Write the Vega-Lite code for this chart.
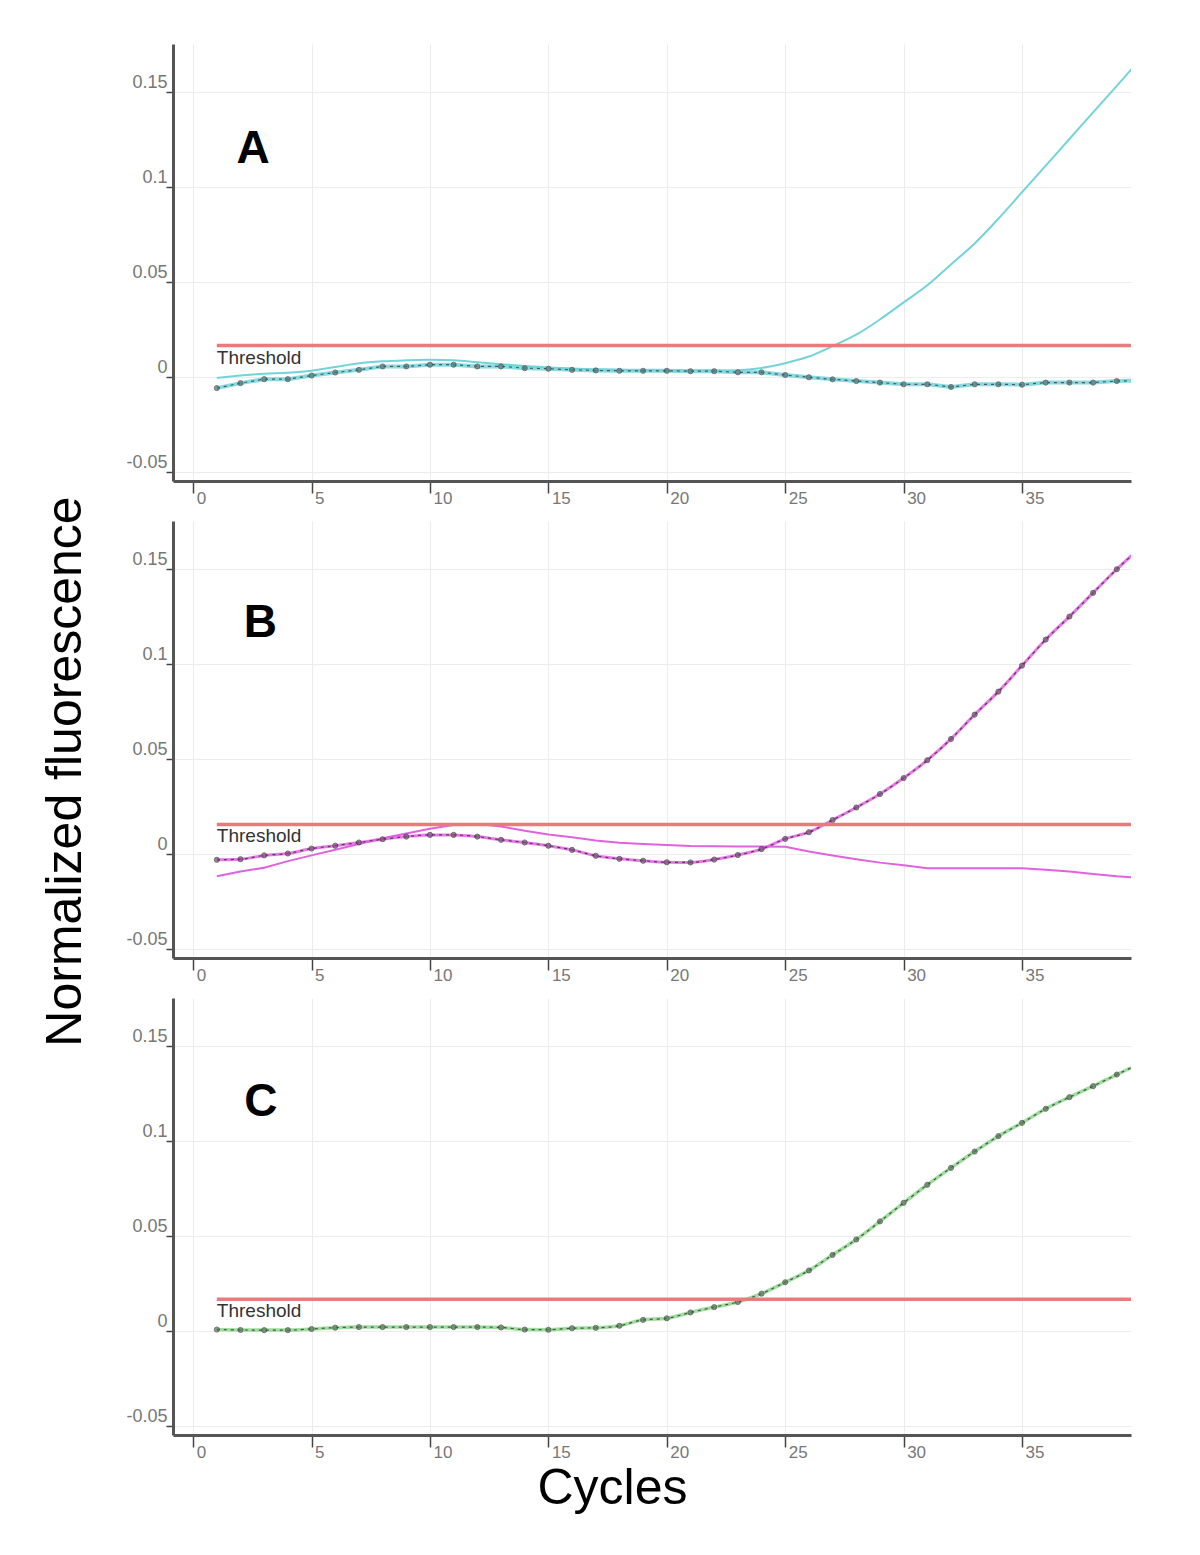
{
  "$schema": "https://vega.github.io/schema/vega-lite/v6.json",
  "background": "white",
  "padding": {"left": 39, "top": 44, "right": 73, "bottom": 42},
  "bounds": "flush",
  "spacing": 40,
  "config": {
    "view": {"stroke": null},
    "font": "Liberation Sans",
    "axis": {
      "domainColor": "#555555", "domainWidth": 3,
      "gridColor": "#ececec", "gridWidth": 1,
      "tickColor": "#444444", "tickWidth": 1.5,
      "labelColor": "#777777", "labelFont": "Liberation Sans", "labelFontSize": 17,
      "titleFont": "Liberation Sans", "titleFontSize": 50, "titleColor": "#000000", "titleFontWeight": "normal"
    },
    "axisX": {"tickSize": 12, "labelAlign": "left", "labelBaseline": "top", "labelPadding": -3, "labelOffset": 3},
    "axisY": {"tickSize": 7, "labelPadding": -1, "labelBaseline": "alphabetic", "labelOffset": -4, "labelAlign": "right", "labelFontSize": 18}
  },
  "data": {"values": [
    {"p":"A","s":"m","c":1,"v":-0.0061},{"p":"A","s":"m","c":2,"v":-0.0035},{"p":"A","s":"m","c":3,"v":-0.0014},{"p":"A","s":"m","c":4,"v":-0.0014},{"p":"A","s":"m","c":5,"v":0.0005},{"p":"A","s":"m","c":6,"v":0.0021},{"p":"A","s":"m","c":7,"v":0.0035},{"p":"A","s":"m","c":8,"v":0.0053},{"p":"A","s":"m","c":9,"v":0.0053},{"p":"A","s":"m","c":10,"v":0.0062},
    {"p":"A","s":"m","c":11,"v":0.0062},{"p":"A","s":"m","c":12,"v":0.0053},{"p":"A","s":"m","c":13,"v":0.0053},{"p":"A","s":"m","c":14,"v":0.0044},{"p":"A","s":"m","c":15,"v":0.0041},{"p":"A","s":"m","c":16,"v":0.0035},{"p":"A","s":"m","c":17,"v":0.0032},{"p":"A","s":"m","c":18,"v":0.003},{"p":"A","s":"m","c":19,"v":0.003},{"p":"A","s":"m","c":20,"v":0.003},
    {"p":"A","s":"m","c":21,"v":0.0028},{"p":"A","s":"m","c":22,"v":0.0028},{"p":"A","s":"m","c":23,"v":0.0022},{"p":"A","s":"m","c":24,"v":0.0022},{"p":"A","s":"m","c":25,"v":0.0008},{"p":"A","s":"m","c":26,"v":-0.0004},{"p":"A","s":"m","c":27,"v":-0.0015},{"p":"A","s":"m","c":28,"v":-0.0024},{"p":"A","s":"m","c":29,"v":-0.0032},{"p":"A","s":"m","c":30,"v":-0.0041},
    {"p":"A","s":"m","c":31,"v":-0.0041},{"p":"A","s":"m","c":32,"v":-0.0055},{"p":"A","s":"m","c":33,"v":-0.0041},{"p":"A","s":"m","c":34,"v":-0.0041},{"p":"A","s":"m","c":35,"v":-0.0043},{"p":"A","s":"m","c":36,"v":-0.0032},{"p":"A","s":"m","c":37,"v":-0.0032},{"p":"A","s":"m","c":38,"v":-0.0032},{"p":"A","s":"m","c":39,"v":-0.0024},{"p":"A","s":"m","c":40,"v":-0.0022},
    {"p":"A","s":"u","c":1,"v":-0.0007},{"p":"A","s":"u","c":2,"v":0.0005},{"p":"A","s":"u","c":3,"v":0.0015},{"p":"A","s":"u","c":4,"v":0.002},{"p":"A","s":"u","c":5,"v":0.003},{"p":"A","s":"u","c":6,"v":0.005},{"p":"A","s":"u","c":7,"v":0.007},{"p":"A","s":"u","c":8,"v":0.008},{"p":"A","s":"u","c":9,"v":0.0085},{"p":"A","s":"u","c":10,"v":0.0088},
    {"p":"A","s":"u","c":11,"v":0.0085},{"p":"A","s":"u","c":12,"v":0.0075},{"p":"A","s":"u","c":13,"v":0.0065},{"p":"A","s":"u","c":14,"v":0.0055},{"p":"A","s":"u","c":15,"v":0.0048},{"p":"A","s":"u","c":16,"v":0.0042},{"p":"A","s":"u","c":17,"v":0.0038},{"p":"A","s":"u","c":18,"v":0.0035},{"p":"A","s":"u","c":19,"v":0.0033},{"p":"A","s":"u","c":20,"v":0.0032},
    {"p":"A","s":"u","c":21,"v":0.0031},{"p":"A","s":"u","c":22,"v":0.0031},{"p":"A","s":"u","c":23,"v":0.0033},{"p":"A","s":"u","c":24,"v":0.0045},{"p":"A","s":"u","c":25,"v":0.007},{"p":"A","s":"u","c":26,"v":0.0105},{"p":"A","s":"u","c":27,"v":0.016},{"p":"A","s":"u","c":28,"v":0.022},{"p":"A","s":"u","c":29,"v":0.03},{"p":"A","s":"u","c":30,"v":0.039},
    {"p":"A","s":"u","c":31,"v":0.048},{"p":"A","s":"u","c":32,"v":0.059},{"p":"A","s":"u","c":33,"v":0.07},{"p":"A","s":"u","c":34,"v":0.083},{"p":"A","s":"u","c":35,"v":0.097},{"p":"A","s":"u","c":36,"v":0.111},{"p":"A","s":"u","c":37,"v":0.125},{"p":"A","s":"u","c":38,"v":0.139},{"p":"A","s":"u","c":39,"v":0.153},{"p":"A","s":"u","c":40,"v":0.167},
    {"p":"B","s":"m","c":1,"v":-0.0033},{"p":"B","s":"m","c":2,"v":-0.003},{"p":"B","s":"m","c":3,"v":-0.001},{"p":"B","s":"m","c":4,"v":0.0},{"p":"B","s":"m","c":5,"v":0.0026},{"p":"B","s":"m","c":6,"v":0.0041},{"p":"B","s":"m","c":7,"v":0.0058},{"p":"B","s":"m","c":8,"v":0.0075},{"p":"B","s":"m","c":9,"v":0.0089},{"p":"B","s":"m","c":10,"v":0.0098},
    {"p":"B","s":"m","c":11,"v":0.0098},{"p":"B","s":"m","c":12,"v":0.0089},{"p":"B","s":"m","c":13,"v":0.0072},{"p":"B","s":"m","c":14,"v":0.0058},{"p":"B","s":"m","c":15,"v":0.0041},{"p":"B","s":"m","c":16,"v":0.0019},{"p":"B","s":"m","c":17,"v":-0.0012},{"p":"B","s":"m","c":18,"v":-0.0028},{"p":"B","s":"m","c":19,"v":-0.0038},{"p":"B","s":"m","c":20,"v":-0.0046},
    {"p":"B","s":"m","c":21,"v":-0.0047},{"p":"B","s":"m","c":22,"v":-0.0032},{"p":"B","s":"m","c":23,"v":-0.0008},{"p":"B","s":"m","c":24,"v":0.0023},{"p":"B","s":"m","c":25,"v":0.0077},{"p":"B","s":"m","c":26,"v":0.0112},{"p":"B","s":"m","c":27,"v":0.0176},{"p":"B","s":"m","c":28,"v":0.0242},{"p":"B","s":"m","c":29,"v":0.0313},{"p":"B","s":"m","c":30,"v":0.0397},
    {"p":"B","s":"m","c":31,"v":0.0491},{"p":"B","s":"m","c":32,"v":0.0603},{"p":"B","s":"m","c":33,"v":0.0731},{"p":"B","s":"m","c":34,"v":0.0852},{"p":"B","s":"m","c":35,"v":0.0989},{"p":"B","s":"m","c":36,"v":0.1126},{"p":"B","s":"m","c":37,"v":0.1247},{"p":"B","s":"m","c":38,"v":0.1372},{"p":"B","s":"m","c":39,"v":0.1496},{"p":"B","s":"m","c":40,"v":0.161},
    {"p":"B","s":"u","c":1,"v":-0.012},{"p":"B","s":"u","c":2,"v":-0.0095},{"p":"B","s":"u","c":3,"v":-0.0075},{"p":"B","s":"u","c":4,"v":-0.004},{"p":"B","s":"u","c":5,"v":-0.001},{"p":"B","s":"u","c":6,"v":0.002},{"p":"B","s":"u","c":7,"v":0.005},{"p":"B","s":"u","c":8,"v":0.008},{"p":"B","s":"u","c":9,"v":0.0105},{"p":"B","s":"u","c":10,"v":0.013},
    {"p":"B","s":"u","c":11,"v":0.015},{"p":"B","s":"u","c":12,"v":0.0155},{"p":"B","s":"u","c":13,"v":0.0142},{"p":"B","s":"u","c":14,"v":0.012},{"p":"B","s":"u","c":15,"v":0.01},{"p":"B","s":"u","c":16,"v":0.0085},{"p":"B","s":"u","c":17,"v":0.0068},{"p":"B","s":"u","c":18,"v":0.0057},{"p":"B","s":"u","c":19,"v":0.005},{"p":"B","s":"u","c":20,"v":0.0045},
    {"p":"B","s":"u","c":21,"v":0.004},{"p":"B","s":"u","c":22,"v":0.0038},{"p":"B","s":"u","c":23,"v":0.0037},{"p":"B","s":"u","c":24,"v":0.0037},{"p":"B","s":"u","c":25,"v":0.0035},{"p":"B","s":"u","c":26,"v":0.001},{"p":"B","s":"u","c":27,"v":-0.001},{"p":"B","s":"u","c":28,"v":-0.003},{"p":"B","s":"u","c":29,"v":-0.0048},{"p":"B","s":"u","c":30,"v":-0.0062},
    {"p":"B","s":"u","c":31,"v":-0.0078},{"p":"B","s":"u","c":32,"v":-0.0078},{"p":"B","s":"u","c":33,"v":-0.0078},{"p":"B","s":"u","c":34,"v":-0.0078},{"p":"B","s":"u","c":35,"v":-0.0078},{"p":"B","s":"u","c":36,"v":-0.0085},{"p":"B","s":"u","c":37,"v":-0.0095},{"p":"B","s":"u","c":38,"v":-0.0108},{"p":"B","s":"u","c":39,"v":-0.012},{"p":"B","s":"u","c":40,"v":-0.0128},
    {"p":"C","s":"m","c":1,"v":0.0005},{"p":"C","s":"m","c":2,"v":0.0003},{"p":"C","s":"m","c":3,"v":0.0002},{"p":"C","s":"m","c":4,"v":0.0002},{"p":"C","s":"m","c":5,"v":0.0008},{"p":"C","s":"m","c":6,"v":0.0015},{"p":"C","s":"m","c":7,"v":0.0018},{"p":"C","s":"m","c":8,"v":0.0018},{"p":"C","s":"m","c":9,"v":0.0018},{"p":"C","s":"m","c":10,"v":0.0018},
    {"p":"C","s":"m","c":11,"v":0.0018},{"p":"C","s":"m","c":12,"v":0.0018},{"p":"C","s":"m","c":13,"v":0.0016},{"p":"C","s":"m","c":14,"v":0.0005},{"p":"C","s":"m","c":15,"v":0.0004},{"p":"C","s":"m","c":16,"v":0.0012},{"p":"C","s":"m","c":17,"v":0.0014},{"p":"C","s":"m","c":18,"v":0.0025},{"p":"C","s":"m","c":19,"v":0.0056},{"p":"C","s":"m","c":20,"v":0.0064},
    {"p":"C","s":"m","c":21,"v":0.0095},{"p":"C","s":"m","c":22,"v":0.0123},{"p":"C","s":"m","c":23,"v":0.015},{"p":"C","s":"m","c":24,"v":0.0194},{"p":"C","s":"m","c":25,"v":0.0254},{"p":"C","s":"m","c":26,"v":0.0316},{"p":"C","s":"m","c":27,"v":0.0398},{"p":"C","s":"m","c":28,"v":0.0479},{"p":"C","s":"m","c":29,"v":0.0574},{"p":"C","s":"m","c":30,"v":0.0672},
    {"p":"C","s":"m","c":31,"v":0.0767},{"p":"C","s":"m","c":32,"v":0.0856},{"p":"C","s":"m","c":33,"v":0.0942},{"p":"C","s":"m","c":34,"v":0.1023},{"p":"C","s":"m","c":35,"v":0.1093},{"p":"C","s":"m","c":36,"v":0.1167},{"p":"C","s":"m","c":37,"v":0.1228},{"p":"C","s":"m","c":38,"v":0.1286},{"p":"C","s":"m","c":39,"v":0.1347},{"p":"C","s":"m","c":40,"v":0.1405},
    {"p":"A","s":"thr","c":1,"c2":40,"v":0.0163,"label":"Threshold"},
    {"p":"B","s":"thr","c":1,"c2":40,"v":0.0153,"label":"Threshold"},
    {"p":"C","s":"thr","c":1,"c2":40,"v":0.0165,"label":"Threshold"},
    {"p":"A","s":"lab","c":2.53,"v":0.1123,"label":"A"},
    {"p":"B","s":"lab","c":2.84,"v":0.1142,"label":"B"},
    {"p":"C","s":"lab","c":2.86,"v":0.113,"label":"C"}
  ]},
  "vconcat": [
    {
      "width": 958, "height": 437,
      "transform": [{"filter": "datum.p == 'A'"}],
      "encoding": {
        "x": {"field": "c", "type": "quantitative", "scale": {"domain": [-0.85, 39.6], "nice": false, "zero": false}, "axis": {"values": [0,5,10,15,20,25,30,35], "title": null}},
        "y": {"field": "v", "type": "quantitative", "scale": {"domain": [-0.055, 0.175], "nice": false, "zero": false}, "axis": {"values": [-0.05,0,0.05,0.1,0.15], "labelExpr": "'' + datum.value", "title": null}}
      },
      "layer": [
        {"transform": [{"filter": "datum.s == 'u'"}], "mark": {"type": "line", "color": "#72d4d9", "strokeWidth": 2, "interpolate": "monotone", "clip": true}},
        {"transform": [{"filter": "datum.s == 'm'"}], "mark": {"type": "line", "color": "#72d4d9", "strokeWidth": 4, "opacity": 0.85, "clip": true}},
        {"transform": [{"filter": "datum.s == 'm'"}], "mark": {"type": "line", "color": "#3f5f5f", "strokeWidth": 1.2, "strokeDash": [3, 4], "clip": true}},
        {"transform": [{"filter": "datum.s == 'm'"}], "mark": {"type": "point", "shape": "circle", "size": 26, "filled": true, "color": "#5a7272", "stroke": "#3a4a4a", "strokeWidth": 1, "clip": true}},
        {"transform": [{"filter": "datum.s == 'thr'"}], "mark": {"type": "rule", "color": "#e87c7c", "strokeWidth": 3.5, "clip": true}, "encoding": {"x2": {"field": "c2"}}},
        {"transform": [{"filter": "datum.s == 'thr'"}], "mark": {"type": "text", "align": "left", "baseline": "top", "dy": 3, "fontSize": 19, "color": "#333333", "font": "Liberation Sans"}, "encoding": {"text": {"field": "label"}}},
        {"transform": [{"filter": "datum.s == 'lab'"}], "mark": {"type": "text", "align": "center", "baseline": "alphabetic", "fontSize": 46, "fontWeight": "bold", "color": "#000000", "font": "Liberation Sans"}, "encoding": {"text": {"field": "label"}}}
      ]
    },
    {
      "width": 958, "height": 437,
      "transform": [{"filter": "datum.p == 'B'"}],
      "encoding": {
        "x": {"field": "c", "type": "quantitative", "scale": {"domain": [-0.85, 39.6], "nice": false, "zero": false}, "axis": {"values": [0,5,10,15,20,25,30,35], "title": null}},
        "y": {"field": "v", "type": "quantitative", "scale": {"domain": [-0.055, 0.175], "nice": false, "zero": false}, "axis": {"values": [-0.05,0,0.05,0.1,0.15], "labelExpr": "'' + datum.value", "title": "Normalized fluorescence", "titleAngle": 270, "titleAlign": "center", "titleBaseline": "alphabetic", "titleX": -93, "titleY": 250}}
      },
      "layer": [
        {"transform": [{"filter": "datum.s == 'u'"}], "mark": {"type": "line", "color": "#e062e0", "strokeWidth": 2, "clip": true}},
        {"transform": [{"filter": "datum.s == 'm'"}], "mark": {"type": "line", "color": "#e062e0", "strokeWidth": 3, "opacity": 0.85, "interpolate": "monotone", "clip": true}},
        {"transform": [{"filter": "datum.s == 'm'"}], "mark": {"type": "line", "color": "#5a3a5a", "strokeWidth": 1.2, "strokeDash": [3, 4], "interpolate": "monotone", "clip": true}},
        {"transform": [{"filter": "datum.s == 'm'"}], "mark": {"type": "point", "shape": "circle", "size": 26, "filled": true, "color": "#6e5a6e", "stroke": "#3e2e3e", "strokeWidth": 1, "clip": true}},
        {"transform": [{"filter": "datum.s == 'thr'"}], "mark": {"type": "rule", "color": "#e87c7c", "strokeWidth": 3.5, "clip": true}, "encoding": {"x2": {"field": "c2"}}},
        {"transform": [{"filter": "datum.s == 'thr'"}], "mark": {"type": "text", "align": "left", "baseline": "top", "dy": 3, "fontSize": 19, "color": "#333333", "font": "Liberation Sans"}, "encoding": {"text": {"field": "label"}}},
        {"transform": [{"filter": "datum.s == 'lab'"}], "mark": {"type": "text", "align": "center", "baseline": "alphabetic", "fontSize": 46, "fontWeight": "bold", "color": "#000000", "font": "Liberation Sans"}, "encoding": {"text": {"field": "label"}}}
      ]
    },
    {
      "width": 958, "height": 437,
      "transform": [{"filter": "datum.p == 'C'"}],
      "encoding": {
        "x": {"field": "c", "type": "quantitative", "scale": {"domain": [-0.85, 39.6], "nice": false, "zero": false}, "axis": {"values": [0,5,10,15,20,25,30,35], "title": "Cycles", "titleAlign": "center", "titleBaseline": "alphabetic", "titleX": 439, "titleY": 68}},
        "y": {"field": "v", "type": "quantitative", "scale": {"domain": [-0.055, 0.175], "nice": false, "zero": false}, "axis": {"values": [-0.05,0,0.05,0.1,0.15], "labelExpr": "'' + datum.value", "title": null}}
      },
      "layer": [
        {"transform": [{"filter": "datum.s == 'm'"}], "mark": {"type": "line", "color": "#93d993", "strokeWidth": 3.5, "opacity": 0.9, "interpolate": "monotone", "clip": true}},
        {"transform": [{"filter": "datum.s == 'm'"}], "mark": {"type": "line", "color": "#3f5a3f", "strokeWidth": 1.2, "strokeDash": [3, 4], "interpolate": "monotone", "clip": true}},
        {"transform": [{"filter": "datum.s == 'm'"}], "mark": {"type": "point", "shape": "circle", "size": 26, "filled": true, "color": "#627062", "stroke": "#3a443a", "strokeWidth": 1, "clip": true}},
        {"transform": [{"filter": "datum.s == 'thr'"}], "mark": {"type": "rule", "color": "#e87c7c", "strokeWidth": 3.5, "clip": true}, "encoding": {"x2": {"field": "c2"}}},
        {"transform": [{"filter": "datum.s == 'thr'"}], "mark": {"type": "text", "align": "left", "baseline": "top", "dy": 3, "fontSize": 19, "color": "#333333", "font": "Liberation Sans"}, "encoding": {"text": {"field": "label"}}},
        {"transform": [{"filter": "datum.s == 'lab'"}], "mark": {"type": "text", "align": "center", "baseline": "alphabetic", "fontSize": 46, "fontWeight": "bold", "color": "#000000", "font": "Liberation Sans"}, "encoding": {"text": {"field": "label"}}}
      ]
    }
  ]
}
